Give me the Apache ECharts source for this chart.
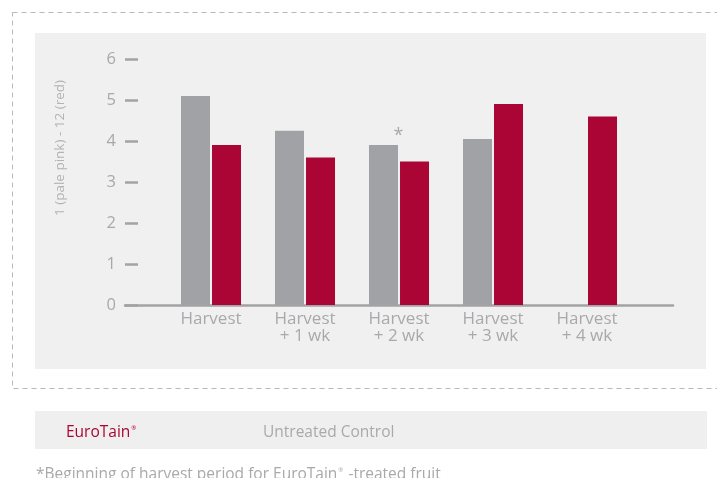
<!DOCTYPE html>
<html>
<head>
<meta charset="utf-8">
<script src="https://cdn.jsdelivr.net/npm/echarts@6/dist/echarts.min.js"></script>
<style>
html,body{margin:0;padding:0;background:#fff;}
#c{width:717px;height:478px;}
</style>
</head>
<body>
<div id="c"></div>
<script>
const categories = ['Harvest', 'Harvest\n+ 1 wk', 'Harvest\n+ 2 wk', 'Harvest\n+ 3 wk', 'Harvest\n+ 4 wk'];
const untreatedControl = [5.1, 4.25, 3.9, 4.05, null];
const euroTain = [3.9, 3.6, 3.5, 4.9, 4.6];
const yTicks = [0, 1, 2, 3, 4, 5, 6];
const yAxisName = '1 (pale pink) - 12 (red)';
const footnote = '*Beginning of harvest period for EuroTain';
const footnoteEnd = ' -treated fruit';
const markedIndex = 2;

const FONT = '"Open Sans", "Noto Sans", sans-serif';
const GRAY_TEXT = '#a9a9ab';
const GRAY_BAR = '#a1a2a5';
const RED = '#ab0535';

const chart = echarts.init(document.getElementById('c'), null, {renderer: 'canvas'});

const grayData = untreatedControl.map((v, i) => i === markedIndex ? {
  value: v,
  label: {show: true, formatter: '*', position: 'top', distance: 0, offset: [15, 0],
    color: GRAY_TEXT, fontSize: 18, fontFamily: FONT}
} : v);

chart.setOption({
  animation: false,
  textStyle: {fontFamily: FONT},
  graphic: [
    {type: 'rect', z: -10, shape: {x: 12.5, y: 12.5, width: 760, height: 376},
      style: {fill: 'none', stroke: '#b8b8b8', lineWidth: 1, lineDash: [5, 4]}},
    {type: 'rect', z: -9, shape: {x: 35, y: 33, width: 671, height: 336}, style: {fill: '#f0f0f0'}},
    {type: 'rect', z: -9, shape: {x: 35, y: 411, width: 672, height: 38}, style: {fill: '#efefef'}},
    {type: 'text', x: 60, y: 148, rotation: Math.PI / 2, z: 5,
      style: {text: yAxisName, fill: '#b3b3b5', fontSize: 13.5, fontFamily: FONT,
        align: 'center', verticalAlign: 'middle'}},
    {type: 'text', x: 36, y: 475, z: 5,
      style: {text: '{t|' + footnote + '}{s|®}{t|' + footnoteEnd + '}', verticalAlign: 'middle',
        rich: {
          t: {fontSize: 15.5, fill: GRAY_TEXT, color: GRAY_TEXT, fontFamily: FONT},
          s: {fontSize: 6, fill: GRAY_TEXT, color: GRAY_TEXT, fontFamily: FONT, padding: [0, 1, 10, 1]}
        }}}
  ],
  legend: [
    {data: ['EuroTain'], left: 56, top: 420, itemWidth: 0, itemHeight: 16, icon: 'rect',
      formatter: () => '{a|EuroTain}{s|®}',
      textStyle: {rich: {
        a: {color: RED, fontSize: 15.5, fontFamily: FONT},
        s: {color: RED, fontSize: 6, fontFamily: FONT, padding: [0, 0, 10, 1]}
      }}},
    {data: ['Untreated Control'], left: 253, top: 420, itemWidth: 0, itemHeight: 16, icon: 'rect',
      textStyle: {color: GRAY_TEXT, fontSize: 15.5, fontFamily: FONT}}
  ],
  grid: [
    {left: 125, right: 44, top: 59, bottom: 173},
    {left: 164, width: 470, top: 59, bottom: 173}
  ],
  xAxis: [
    {gridIndex: 0, type: 'value', min: 0, max: 1, axisLine: {show: true, onZero: false, lineStyle: {color: '#a3a3a6', width: 2.5}},
      axisTick: {show: false}, axisLabel: {show: false}, splitLine: {show: false}},
    {gridIndex: 1, type: 'category', data: categories, axisLine: {show: false}, axisTick: {show: false},
      axisLabel: {color: GRAY_TEXT, fontSize: 17, lineHeight: 17, margin: 6, fontFamily: FONT}}
  ],
  yAxis: [
    {gridIndex: 0, type: 'value', min: yTicks[0], max: yTicks[yTicks.length - 1], interval: 1,
      axisLine: {show: false},
      axisTick: {show: true, inside: true, length: 13, lineStyle: {color: '#a3a3a6', width: 2.5}},
      axisLabel: {color: GRAY_TEXT, fontSize: 16.5, margin: 9, fontFamily: FONT},
      splitLine: {show: false}},
    {gridIndex: 1, type: 'value', min: yTicks[0], max: yTicks[yTicks.length - 1], interval: 1, show: false}
  ],
  series: [
    {name: 'Untreated Control', type: 'bar', xAxisIndex: 1, yAxisIndex: 1, data: grayData,
      barWidth: 29, barGap: '7%', itemStyle: {color: GRAY_BAR}},
    {name: 'EuroTain', type: 'bar', xAxisIndex: 1, yAxisIndex: 1, data: euroTain,
      barWidth: 29, barGap: '7%', itemStyle: {color: RED}}
  ]
});
</script>
</body>
</html>
